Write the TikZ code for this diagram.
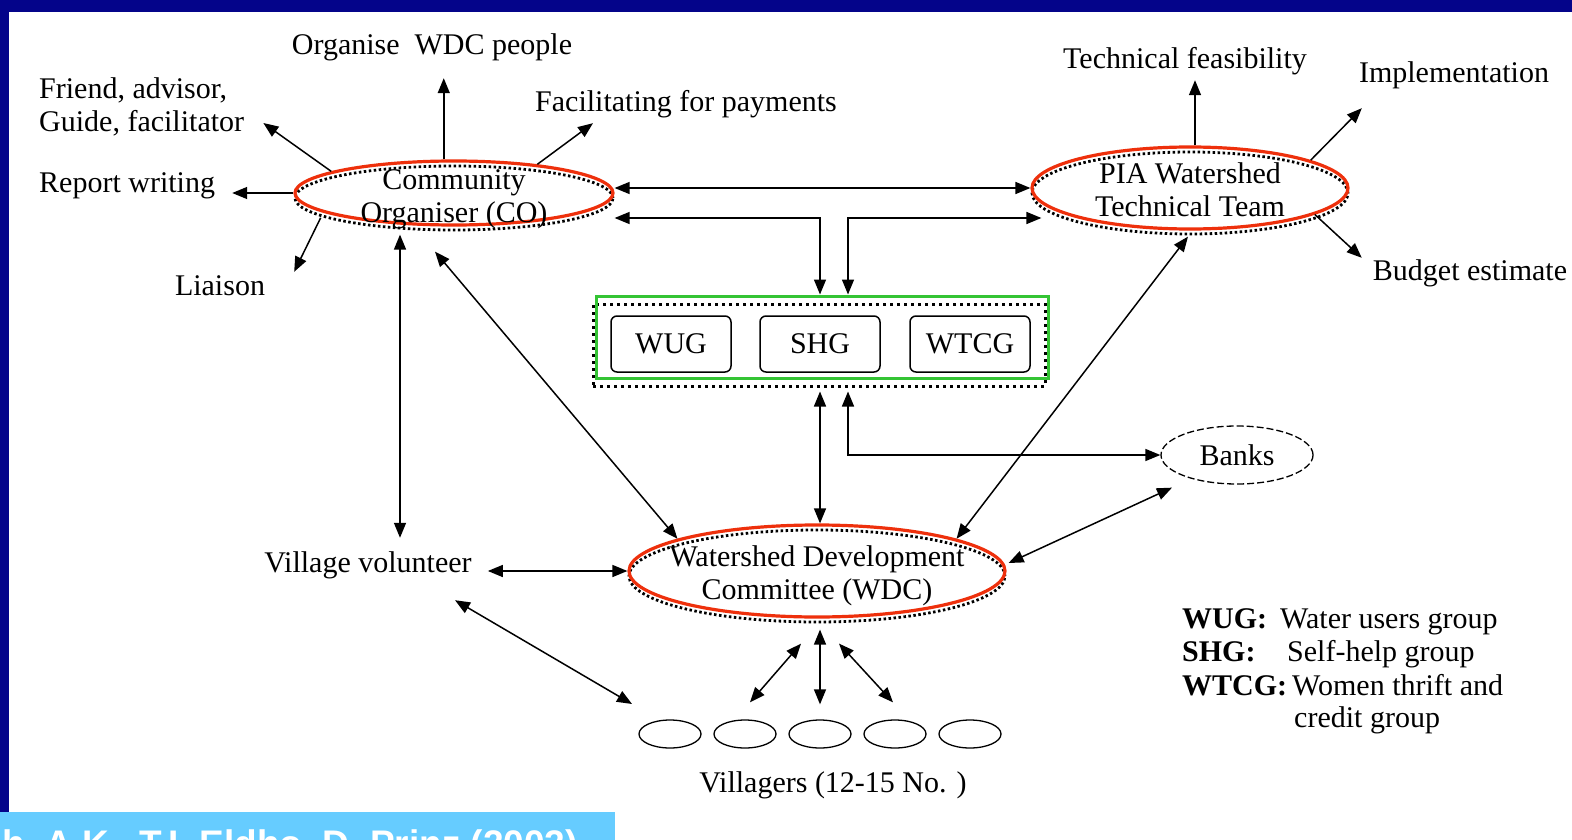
\documentclass[tikz,border=0pt]{standalone}
\usepackage{fontspec}
\setmainfont{Liberation Serif}
\newfontfamily\citefont{Liberation Sans}
\usetikzlibrary{arrows.meta,shapes.geometric,positioning}
\definecolor{slideblue}{RGB}{4,4,138}
\definecolor{ringred}{RGB}{238,48,12}
\definecolor{grpgreen}{RGB}{52,196,52}
\definecolor{citeblue}{RGB}{102,204,255}
\tikzset{
  ring/.style={ellipse,draw=ringred,line width=3.2pt,inner sep=0pt,
    preaction={draw=black,line width=2.8pt,dash pattern=on 2.5pt off 2.5pt,transform canvas={yshift=-5pt}}},
  rtext/.style={align=center,inner sep=0pt},
  grp/.style={rectangle,draw=grpgreen,line width=3pt,
    preaction={draw=black,line width=3pt,dash pattern=on 3pt off 4pt,transform canvas={xshift=-3pt,yshift=-8pt}}},
  grpitem/.style={rectangle,rounded corners=6pt,draw=black,line width=1.5pt,minimum width=120pt,minimum height=56pt},
  bank/.style={ellipse,draw=black,line width=1.3pt,dash pattern=on 7pt off 3pt,inner sep=2pt,minimum width=152pt,minimum height=58pt},
  vil/.style={ellipse,draw=black,line width=1.3pt,inner sep=0pt,minimum width=62pt,minimum height=28pt},
  lb/.style={inner sep=2pt,text height=22pt,text depth=7pt,anchor=base},
  abbr/.style={lb,anchor=base west,font=\fontsize{30}{33}\selectfont\bfseries},
  arr/.style={-{Triangle[length=15pt,width=12pt]},line width=1.5pt},
  darr/.style={{Triangle[length=15pt,width=12pt]}-{Triangle[length=15pt,width=12pt]},line width=1.5pt},
}
\begin{document}
\begin{tikzpicture}[x=1pt,y=-1pt,font=\fontsize{30}{33}\selectfont]
\useasboundingbox (0,0) rectangle (1572,840);
\fill[white] (0,0) rectangle (1572,840);
\fill[slideblue] (0,0) rectangle (1572,12);
\fill[slideblue] (0,0) rectangle (9,840);
% the three bodies
\node[ring,minimum width=318pt,minimum height=64pt,
  label={[rtext,yshift=-6pt]center:Community\\Organiser (CO)}] (co) at (454,193) {};
\node[ring,minimum width=316pt,minimum height=82pt,
  label={[rtext,yshift=-2pt]center:PIA Watershed\\Technical Team}] (pia) at (1190,188) {};
\node[ring,minimum width=376pt,minimum height=92pt,
  label={[rtext,yshift=-5pt]center:Watershed Development\\Committee (WDC)}] (wdc) at (817,571) {};
% user groups
\node[grp,minimum width=452pt,minimum height=82pt] (grp) at (822,337) {};
\node[grpitem] (wug) at (671,344) {WUG};
\node[grpitem] (shg) at (820,344) {SHG};
\node[grpitem] (wtcg) at (970,344) {WTCG};
\node[bank] (banks) at (1237,455) {Banks};
\foreach \i in {1,...,5}
  \node[vil] (v\i) at (595+75*\i,734) {};
% labels
\node[lb] (org) at (432,55) {Organise\ \ WDC people};
\node[align=left,anchor=west,inner sep=2pt] (friend) at (37,107) {Friend, advisor,\\Guide, facilitator};
\node[lb,anchor=base west] (report) at (37,193) {Report writing};
\node[lb] (liaison) at (220,295) {Liaison};
\node[lb] (facil) at (686,112) {Facilitating for payments};
\node[lb] (techf) at (1185,69) {Technical feasibility};
\node[lb] (impl) at (1454,83) {Implementation};
\node[lb] (budget) at (1470,280) {Budget estimate};
\node[lb] (vol) at (368,572) {Village volunteer};
\node[lb] (vill) at (833,792) {Villagers (12-15 No. )};
% legend
\foreach \k/\d/\y/\x [count=\n] in {WUG:/Water users group/628/1278, SHG:/Self-help group/661/1285, WTCG:/Women thrift and/695/1290} {
  \node[abbr] (abbr\n) at (1180,\y) {\k};
  \node[lb,anchor=base west] (expl\n) at (\x,\y) {\d};
}
\node[lb,anchor=base west] (expl4) at (1292,727) {credit group};
% source bar
\node[anchor=north west,fill=citeblue,minimum width=615pt,minimum height=40pt,inner sep=0pt] (citebar) at (0,812) {};
\node[anchor=base west,inner sep=0pt,text=white,font=\citefont\fontsize{37}{40}\selectfont\bfseries] (cite) at (2,856) {h, A.K., T.I. Eldho, D. Prinz (2002)};
% helper points
\coordinate (coS) at ([shift={(-54,8)}]co.south);
\coordinate (piaN) at ([shift={(5,0)}]pia.north);
\coordinate (shgR) at ([shift={(28,0)}]shg.center);
\coordinate (grpB) at ([shift={(0,12)}]grp.south);
% CO tasks
\draw[arr,shorten >=14pt] (co.107) -- (org.south -| co.107);
\draw[arr] (co.170.5) -- ([shift={(17,16)}]friend.east);
\draw[arr,shorten >=15pt] (co.west) -- (co.west -| report.east);
\draw[arr] ([shift={(0,6)}]co.188) -- ([shift={(27,1)}]liaison.north east);
\draw[arr] (co.19) -- ([shift={(60,2)}]facil.south west);
% PIA tasks
\draw[arr,shorten >=2pt] (piaN) -- (techf.south -| piaN);
\draw[arr] (pia.13) -- ([shift={(5,16)}]impl.south west);
\draw[arr] (pia.348.3) -- ([shift={(-9,2)}]budget.north west);
% links
\draw[darr] (pia.west -| co.east) -- (pia.west);
\draw[darr] ([shift={(0,25)}]co.east) -| (shg.center |- grp.north);
\draw[darr] ([shift={(11,30)}]pia.west) -| (shgR |- grp.north);
\draw[darr,shorten >=10pt] (coS) -- (coS |- vol.north);
\draw[darr] ([shift={(-19,25)}]co.south) -- (wdc.167);
\draw[darr] ([shift={(-2,6)}]pia.south) -- (wdc.13);
\draw[darr] (grpB -| shg.center) -- (wdc.north -| shg.center);
\draw[darr] (grpB -| shgR) |- (banks.west);
\draw[darr] ([shift={(-65,3)}]banks.south) -- ([shift={(2,-8)}]wdc.east);
\draw[darr,shorten <=14pt] (vol.east |- wdc.west) -- (wdc.west);
\draw[darr] ([shift={(87,19)}]vol.south) -- ([shift={(-38,-30)}]v1.center);
% WDC and villagers
\draw[darr] ([shift={(3,11)}]wdc.south) -- ([shift={(0,-15)}]v3.north);
\draw[darr] ([shift={(-16,25)}]wdc.south) -- ([shift={(5,-17)}]v2.north);
\draw[darr] ([shift={(22,25)}]wdc.south) -- ([shift={(-2,-17)}]v4.north);
\end{tikzpicture}
\end{document}
